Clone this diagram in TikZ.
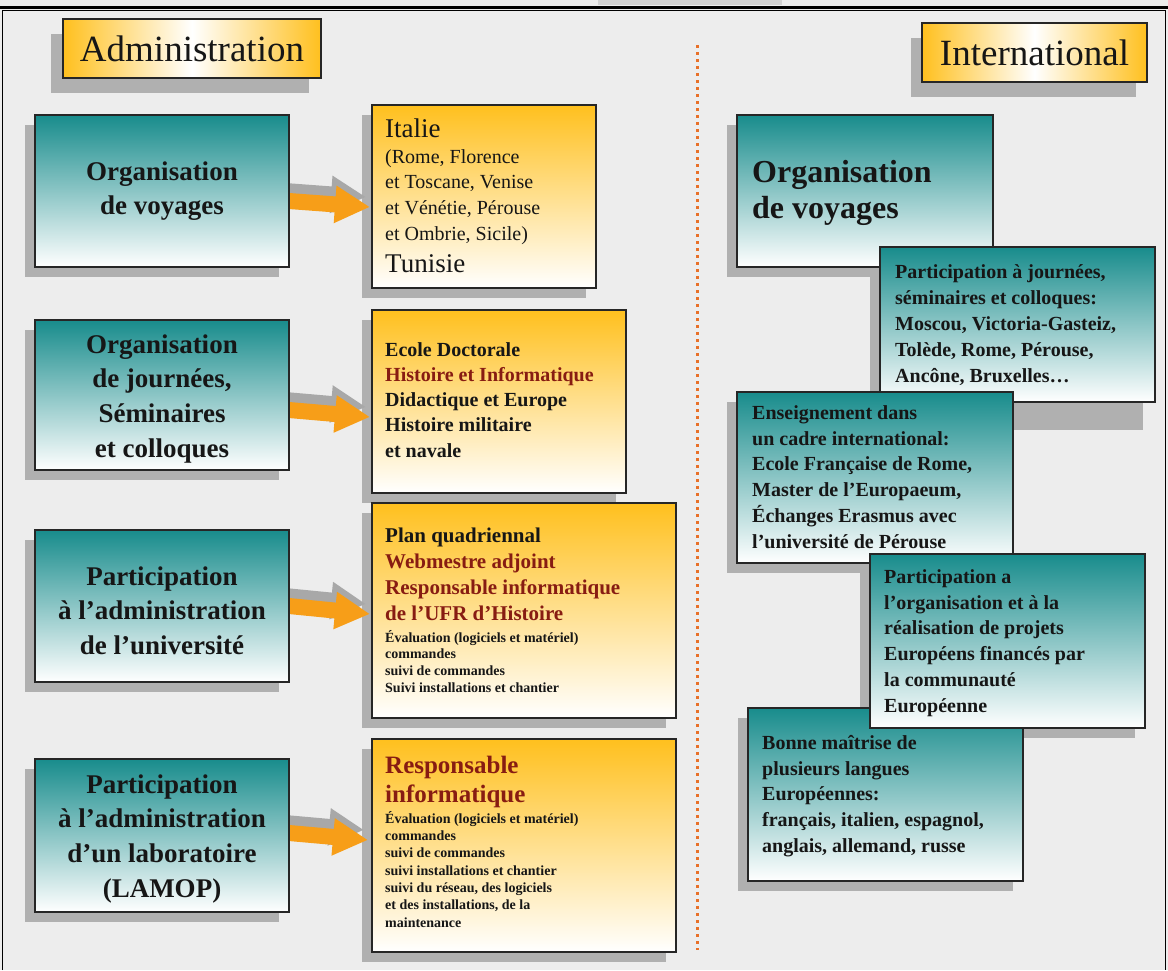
\documentclass[tikz,border=0pt]{standalone}
\usepackage{fontspec}
\setmainfont{Liberation Serif}
\usetikzlibrary{calc,arrows.meta}
\definecolor{tealc}{RGB}{24,140,140}
\definecolor{goldc}{RGB}{255,192,30}
\definecolor{shadc}{RGB}{176,176,176}
\definecolor{arrc}{RGB}{247,158,24}
\definecolor{arrshad}{RGB}{168,168,168}
\definecolor{dotc}{RGB}{232,112,40}
\definecolor{redc}{RGB}{135,28,18}
\definecolor{bgc}{RGB}{237,237,237}
\definecolor{inkc}{RGB}{22,22,22}
\pgfdeclarelayer{bgl}\pgfdeclarelayer{shl}\pgfdeclarelayer{arl}
\pgfsetlayers{bgl,shl,arl,main}
\newcommand\mystrut[1]{\rule{0pt}{#1pt}}
\newcommand\blockarr[4]{%
  \begin{pgfonlayer}{arl}
  \draw[arrshadsty] ($(#1)+(#2)+(-4,-10)$) -- ($(#3)+(#4)+(-4,-10)$);
  \draw[arrsty] ($(#1)+(#2)$) -- ($(#3)+(#4)$);
  \end{pgfonlayer}}
\tikzset{
  bx/.style={draw=black!85, line width=1.2pt, inner sep=0pt, outer sep=0pt, anchor=north west},
  tealbox/.style={bx, top color=tealc, bottom color=white, middle color=tealc!50!white},
  goldbox/.style={bx, top color=goldc, bottom color=white, middle color=goldc!50!white},
  headbox/.style={bx, left color=goldc, right color=goldc, middle color=white},
  arrsty/.style={line width=16pt, arrc, -{Triangle[length=35pt,width=35pt]}},
  arrshadsty/.style={line width=16pt, arrshad, -{Triangle[length=35pt,width=35pt]}},
  ltxt/.style={anchor=north, align=center, inner sep=0pt, text=inkc, font=\fontsize{27pt}{34.7pt}\selectfont\bfseries},
  rtxt/.style={anchor=north west, align=left, inner sep=0pt, text=inkc, font=\fontsize{20pt}{25.8pt}\selectfont\bfseries},
  ytxt/.style={anchor=north west, align=left, inner sep=0pt, text=inkc},
  htxt/.style={anchor=base, inner sep=0pt, text=inkc, font=\fontsize{37pt}{40pt}\selectfont},
}
\begin{document}
\begin{tikzpicture}[x=1pt,y=-1pt]
\useasboundingbox (0,0) rectangle (1168,970);
\begin{pgfonlayer}{bgl}
  \fill[bgc] (0,0) rectangle (1168,970);
  \fill[gray!35] (598,0) rectangle (782,5);
  \draw[line width=3pt, black] (0,7.5) -- (1168,7.5);
  \draw[line width=1pt, black] (2.5,970) -- (2.5,10.5) -- (1165.5,10.5) -- (1165.5,970);
  \draw[dotc, line width=3pt, dash pattern=on 3pt off 4pt] (697,45) -- (697,950);
\end{pgfonlayer}

% headers
\node[headbox, minimum width=258pt, minimum height=59pt] (HA) at (63,19) {};
\node[htxt] (HAt) at (192,61) {Administration};
\node[headbox, minimum width=225pt, minimum height=59pt] (HI) at (922,23) {};
\node[htxt] (HIt) at (1034.5,65) {International};

% left column
\node[tealbox, minimum width=254pt, minimum height=152pt] (L1) at (35,115) {};
\node[ltxt] (L1t) at (162,153) {\mystrut{27}Organisation\\de voyages};
\node[tealbox, minimum width=254pt, minimum height=150pt] (L2) at (35,320) {};
\node[ltxt] (L2t) at (162,326) {\mystrut{27}Organisation\\de journées,\\Séminaires\\et colloques};
\node[tealbox, minimum width=254pt, minimum height=152pt] (L3) at (35,530) {};
\node[ltxt] (L3t) at (162,558) {\mystrut{27}Participation\\à l’administration\\de l’université};
\node[tealbox, minimum width=254pt, minimum height=153pt] (L4) at (35,759) {};
\node[ltxt] (L4t) at (162,766) {\mystrut{27}Participation\\à l’administration\\d’un laboratoire\\(LAMOP)};

% middle column
\node[goldbox, minimum width=224pt, minimum height=183pt] (Y1) at (372,105) {};
\node[anchor=base west, inner sep=0pt, text=inkc, font=\fontsize{27pt}{30pt}\selectfont] (Y1a) at (385,137) {Italie};
\node[ytxt, font=\fontsize{20pt}{25.7pt}\selectfont] (Y1b) at (385,143) {\mystrut{20}(Rome, Florence\\et Toscane, Venise\\et Vénétie, Pérouse\\et Ombrie, Sicile)};
\node[anchor=base west, inner sep=0pt, text=inkc, font=\fontsize{27pt}{30pt}\selectfont] (Y1c) at (385,272) {Tunisie};

\node[goldbox, minimum width=254pt, minimum height=183pt] (Y2) at (372,310) {};
\node[ytxt, font=\fontsize{20pt}{25.25pt}\selectfont\bfseries] (Y2t) at (385,336) {\mystrut{20}Ecole Doctorale\\\textcolor{redc}{Histoire et Informatique}\\Didactique et Europe\\Histoire militaire\\et navale};

\node[goldbox, minimum width=304pt, minimum height=215pt] (Y3) at (372,503) {};
\node[ytxt, font=\fontsize{21pt}{26pt}\selectfont\bfseries] (Y3a) at (385,521) {\mystrut{21}Plan quadriennal\\\textcolor{redc}{Webmestre adjoint}\\\textcolor{redc}{Responsable informatique}\\\textcolor{redc}{de l’UFR d’Histoire}};
\node[ytxt, font=\fontsize{14pt}{16.7pt}\selectfont\bfseries] (Y3b) at (385,628) {\mystrut{14}Évaluation (logiciels et matériel)\\commandes\\suivi de commandes\\Suivi installations et chantier};

\node[goldbox, minimum width=304pt, minimum height=213pt] (Y4) at (372,739) {};
\node[ytxt, text=redc, font=\fontsize{25pt}{29pt}\selectfont\bfseries] (Y4a) at (385,748) {\mystrut{25}Responsable\\informatique};
\node[ytxt, font=\fontsize{14pt}{17.3pt}\selectfont\bfseries] (Y4b) at (385,809) {\mystrut{14}Évaluation (logiciels et matériel)\\commandes\\suivi de commandes\\suivi installations et chantier\\suivi du réseau, des logiciels\\et des installations, de la\\maintenance};

% arrows
\blockarr{L1.east}{0,10}{Y1.west}{-2,10.5}
\blockarr{L2.east}{0,15}{Y2.west}{-2,15.5}
\blockarr{L3.east}{0,0}{Y3.west}{-2,3.5}
\blockarr{L4.east}{0,-2.5}{Y4.west}{-4,-5.5}

% right column
\node[tealbox, minimum width=256pt, minimum height=152pt] (R1) at (737,115) {};
\node[rtxt, font=\fontsize{32pt}{36pt}\selectfont\bfseries] (R1t) at (752,150) {\mystrut{32}Organisation\\de voyages};
\node[tealbox, minimum width=275pt, minimum height=155pt] (R2) at (880,247) {};
\node[rtxt, font=\fontsize{20pt}{26pt}\selectfont\bfseries] (R2t) at (895,258) {\mystrut{20}Participation à journées,\\séminaires et colloques:\\Moscou, Victoria-Gasteiz,\\Tolède, Rome, Pérouse,\\Ancône, Bruxelles…};
\node[tealbox, minimum width=276pt, minimum height=171pt] (R3) at (737,392) {};
\node[rtxt] (R3t) at (752,399) {\mystrut{20}Enseignement dans\\un cadre international:\\Ecole Française de Rome,\\Master de l’Europaeum,\\Échanges Erasmus avec\\l’université de Pérouse};
\node[tealbox, minimum width=275pt, minimum height=173pt] (R5) at (748,708) {};
\node[rtxt] (R5t) at (762,729) {\mystrut{20}Bonne maîtrise de\\plusieurs langues\\Européennes:\\français, italien, espagnol,\\anglais, allemand, russe};
\node[tealbox, minimum width=275pt, minimum height=174pt] (R4) at (870,554) {};
\node[rtxt] (R4t) at (884,563) {\mystrut{20}Participation a\\l’organisation et à la\\réalisation de projets\\Européens financés par\\la communauté\\Européenne};

% shadows
\begin{pgfonlayer}{shl}
  \foreach \n in {L1,L2,L3,L4,Y1,Y2,Y3,Y4,R1,R3,R4,R5}
    \fill[shadc] ($(\n.south west)+(-10,10)$) rectangle ($(\n.north east)+(-10,10)$);
  \fill[shadc] ($(R2.south west)+(-10,28)$) rectangle ($(R2.north east)+(-12,28)$);
  \fill[shadc] ($(HA.south west)+(-12,15)$) rectangle ($(HA.north east)+(-12,15)$);
  \fill[shadc] ($(HI.south west)+(-11,15)$) rectangle ($(HI.north east)+(-11,15)$);
\end{pgfonlayer}
\end{tikzpicture}
\end{document}
